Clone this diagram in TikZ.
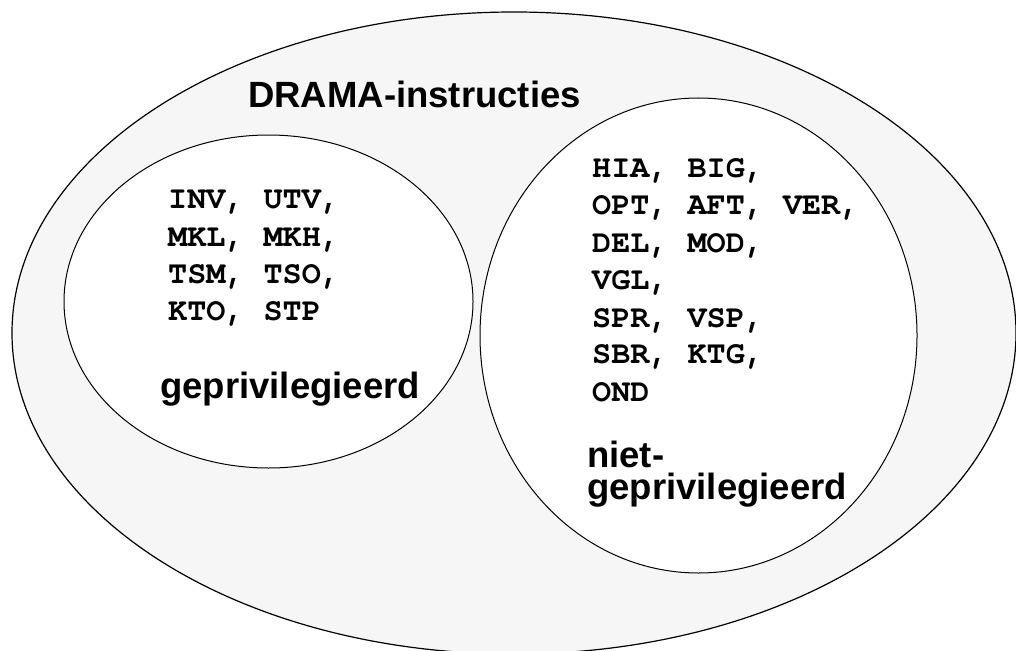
\documentclass[tikz,border=0pt]{standalone}
\usepackage{fontspec}
\usetikzlibrary{shapes.geometric}
\newfontfamily\labelfont{Liberation Sans}
\newfontfamily\codefont{TeX Gyre Cursor}
\definecolor{setgray}{HTML}{F6F6F6}
\begin{document}
\begin{tikzpicture}[x=1pt,y=-1pt,
  setshape/.style={ellipse,draw=black,inner sep=0pt},
  outerset/.style={setshape,fill=setgray,line width=1.2pt},
  innerset/.style={setshape,fill=white,line width=1pt},
  title/.style={anchor=base west,inner sep=0pt,font=\labelfont\bfseries\fontsize{36.5}{32}\selectfont},
  code/.style={anchor=base west,inner sep=0pt,font=\codefont\bfseries\fontsize{31.8}{37}\selectfont}]
\useasboundingbox (0,0) rectangle (1016,650);
% the three sets
\node[outerset,minimum width=1004pt,minimum height=642pt] (all) at (514,333) {};
\node[innerset,minimum width=409pt,minimum height=333pt] (priv) at (268.5,301.5) {};
\node[innerset,minimum width=437pt,minimum height=475pt] (nonpriv) at (698.5,335.5) {};
% set labels (the two-line label is anchored on its last baseline)
\node[title] (allname) at (248,108) {DRAMA-instructies};
\node[title] (privname) at (160,398) {geprivilegieerd};
\node[title,align=left] (nonprivname) at (587,499) {niet-\\geprivilegieerd};
% privileged instructions
\node[code] (p1) at (168,208) {INV, UTV,};
\node[code] (p2) at (168,246) {MKL, MKH,};
\node[code] (p3) at (168,283) {TSM, TSO,};
\node[code] (p4) at (168,320) {KTO, STP};
% non-privileged instructions
\node[code] (n1) at (592,177) {HIA, BIG,};
\node[code] (n2) at (592,214) {OPT, AFT, VER,};
\node[code] (n3) at (592,252) {DEL, MOD,};
\node[code] (n4) at (592,289) {VGL,};
\node[code] (n5) at (592,327) {SPR, VSP,};
\node[code] (n6) at (592,363) {SBR, KTG,};
\node[code] (n7) at (592,401) {OND};
\end{tikzpicture}
\end{document}
